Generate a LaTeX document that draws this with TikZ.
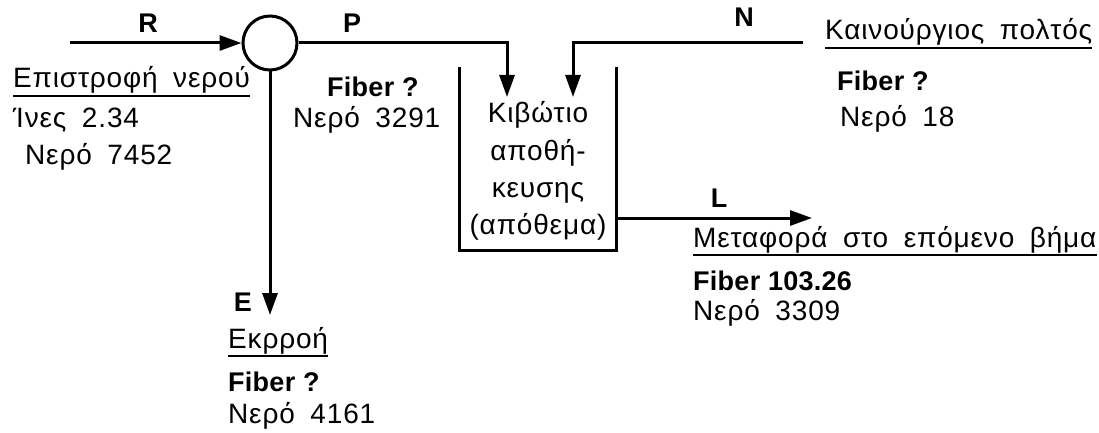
\documentclass[tikz,border=0pt]{standalone}
\usepackage{fontspec}
\setmainfont{Liberation Sans}
\newfontfamily\grfont{Liberation Sans}[LetterSpace=3,WordSpace=1.8]
\newfontfamily\fibfont{Liberation Sans}[LetterSpace=1]
\usetikzlibrary{arrows.meta,calc}

\begin{document}
\begin{tikzpicture}[x=1pt,y=-1pt,
  pipe/.style={line width=3pt},
  flow/.style={pipe,-{Triangle[length=22pt,width=15pt]}},
  txt/.style={anchor=base west,inner sep=0pt,font=\fontsize{28}{32}\selectfont\grfont},
  fib/.style={anchor=base west,inner sep=0pt,font=\fontsize{27}{30}\selectfont\fibfont\bfseries},
  lbl/.style={inner sep=0pt,font=\fontsize{27}{30}\selectfont\bfseries},
  tanktxt/.style={anchor=base,inner sep=0pt,font=\fontsize{28}{32}\selectfont\grfont},
  uline/.style={line width=1.8pt},
]
\useasboundingbox (0,0) rectangle (1099,433);

% mixing point and storage tank
\node[circle,draw,line width=3pt,minimum size=54pt,inner sep=0pt] (mix) at (270,43) {};
\node[minimum width=156pt,minimum height=183pt,inner sep=0pt] (tank) at (538,158.5) {};
\draw[pipe] (tank.north west) |- (tank.south) -| (tank.north east);
\foreach \t [count=\i] in {Κιβώτιο,αποθή-,κευσης,(απόθεμα)}
  \node[tanktxt] (tank\i) at (538,86+37*\i) {\t};

% streams
\coordinate (rin) at (70,43);
\coordinate (pin) at (507,97);
\coordinate (nout) at (803,43);
\coordinate (nin) at (573,97);
\coordinate (eout) at (270,315);
\coordinate (lout) at (812,218);
\draw[flow] (rin) -- (mix.west);
\draw[flow] (mix.east) -| (pin);
\draw[flow] (nout) -| (nin);
\draw[flow] (mix.south) -- (eout);
\draw[flow] (tank.east |- lout) -- (lout);

% stream letters
\node[lbl] (R) at (148,23) {R};
\node[lbl] (P) at (352,23) {P};
\node[lbl] (N) at (744,17) {N};
\node[lbl] (E) at (243,302) {E};
\node[lbl] (L) at (719,198) {L};

% return water
\node[txt] (hret) at (13,88) {Επιστροφή νερού};
\node[txt] (ret1) at (13,128) {Ίνες 2.34};
\node[txt] (ret2) at (25,164) {Νερό 7452};
% to tank
\node[fib] (pfib) at (327,96) {Fiber ?};
\node[txt] (pwat) at (293,128) {Νερό 3291};
% new pulp
\node[txt] (hnew) at (825,40) {Καινούργιος πολτός};
\node[fib] (nfib) at (837,91) {Fiber ?};
\node[txt] (nwat) at (840,127) {Νερό 18};
% effluent
\node[txt] (heff) at (228,348) {Εκρροή};
\node[fib] (efib) at (228,391) {Fiber ?};
\node[txt] (ewat) at (228,423) {Νερό 4161};
% next step
\node[txt] (hnext) at (693,247) {Μεταφορά στο επόμενο βήμα};
\node[fib] (lfib) at (693,290) {Fiber 103.26};
\node[txt] (lwat) at (693,320) {Νερό 3309};

% underlines
\foreach \h in {hret,hnew,heff,hnext}
  \draw[uline] ([yshift=-8pt]\h.base west) -- ([yshift=-8pt]\h.base east);
\end{tikzpicture}
\end{document}
